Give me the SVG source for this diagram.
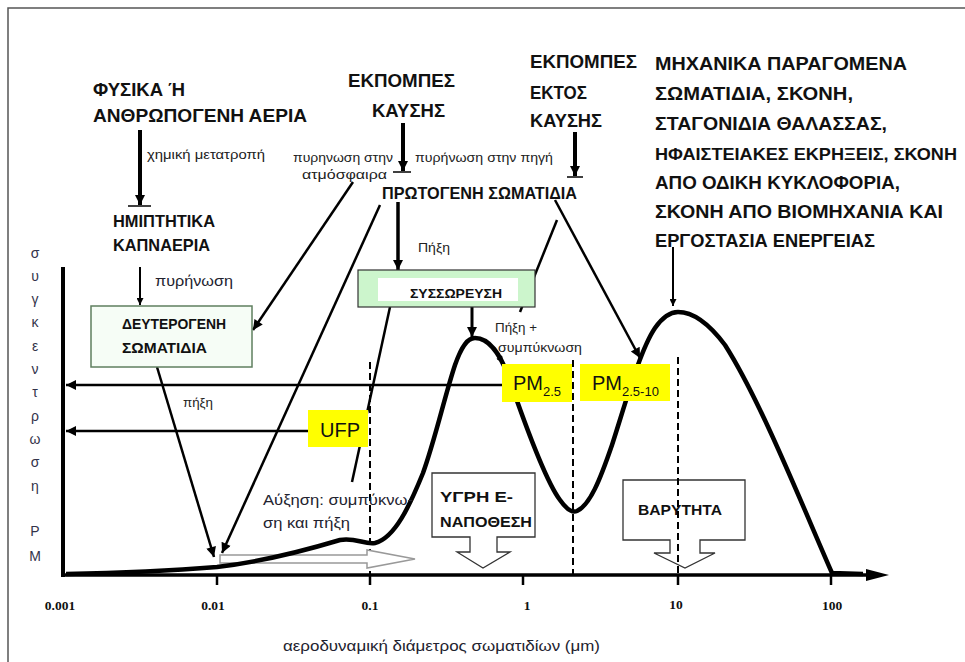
<svg xmlns="http://www.w3.org/2000/svg" width="965" height="662" viewBox="0 0 965 662">
<style>
.h{font-family:"Liberation Sans",Arial,sans-serif;font-weight:bold;font-size:19px;fill:#111}
.hm{font-family:"Liberation Sans",Arial,sans-serif;font-weight:bold;font-size:17px;fill:#111}
.bx{font-family:"Liberation Sans",Arial,sans-serif;font-weight:bold;font-size:15.5px;fill:#111}
.lb{font-family:"Liberation Sans",Arial,sans-serif;font-size:12.5px;fill:#222}
.lb2{font-family:"Liberation Sans",Arial,sans-serif;font-size:14.5px;fill:#22222e}
.ya{font-family:"Liberation Sans",Arial,sans-serif;font-size:14px;fill:#33334a;text-anchor:middle}
.tk{font-family:"Liberation Serif","Times New Roman",serif;font-weight:bold;font-size:13.5px;fill:#111;text-anchor:middle}
.pm{font-family:"Liberation Sans",Arial,sans-serif;font-size:20px;fill:#111}
.ln{stroke:#000;stroke-width:2.5;fill:none}
.dash{stroke:#000;stroke-width:2;stroke-dasharray:7,4;fill:none}
.ylw{fill:#ffff00}
</style>
<defs>
<marker id="ah" viewBox="0 0 10 10" refX="10" refY="5" markerUnits="userSpaceOnUse" markerWidth="13" markerHeight="10" orient="auto"><path d="M0,0 L10,5 L0,10 z" fill="#000"/></marker>
<marker id="ahs" viewBox="0 0 10 10" refX="10" refY="5" markerUnits="userSpaceOnUse" markerWidth="9" markerHeight="7" orient="auto"><path d="M0,0 L10,5 L0,10 z" fill="#000"/></marker>
</defs>
<rect width="965" height="662" fill="#fff"/>
<path d="M8,662 L8,8 L965,8" stroke="#555" stroke-width="1.5" fill="none"/>

<!-- axes -->
<g id="axes">
<line x1="63" y1="267" x2="63" y2="577" stroke="#000" stroke-width="4"/>
<line x1="61" y1="575" x2="870" y2="575" stroke="#000" stroke-width="3.5"/>
<path d="M866,569 L889,575 L866,581 z" fill="#000"/>
<g stroke="#000" stroke-width="2.5">
<line x1="217" y1="575" x2="217" y2="585"/>
<line x1="370" y1="575" x2="370" y2="585"/>
<line x1="523" y1="575" x2="523" y2="585"/>
<line x1="678" y1="575" x2="678" y2="585"/>
<line x1="831" y1="575" x2="831" y2="585"/>
</g>
<text class="tk" x="60" y="610">0.001</text>
<text class="tk" x="213" y="610">0.01</text>
<text class="tk" x="370" y="610">0.1</text>
<text class="tk" x="527" y="610">1</text>
<text class="tk" x="676" y="609">10</text>
<text class="tk" x="832" y="610">100</text>
<text class="lb2" x="283" y="651" textLength="317" lengthAdjust="spacingAndGlyphs">αεροδυναμική διάμετρος σωματιδίων (μm)</text>
<g class="ya">
<text x="35" y="258">σ</text><text x="35" y="281">υ</text><text x="35" y="304">γ</text><text x="35" y="327">κ</text><text x="35" y="351">ε</text><text x="35" y="374">ν</text><text x="35" y="397">τ</text><text x="35" y="421">ρ</text><text x="35" y="444">ω</text><text x="35" y="467">σ</text><text x="35" y="491">η</text><text x="35" y="536">P</text><text x="35" y="561">M</text>
</g>
</g>

<!-- dashed lines -->
<g id="dashes">
<line class="dash" x1="370" y1="362" x2="370" y2="575"/>
<line class="dash" x1="573" y1="360" x2="573" y2="575"/>
</g>

<!-- hollow growth arrow -->
<g id="growth-arrow">
<path d="M220,555 L367,555 L367,550 L415,559 L367,568 L367,563 L220,563 Z" fill="#fff" stroke="#999" stroke-width="1.5"/>
</g>

<!-- deposition boxes -->
<g id="wet-deposition">
<path d="M432,473 L535,473 L535,537 L497,537 L497,552 L510,552 L483,568 L457,552 L470,552 L470,537 L432,537 Z" fill="#fff" stroke="#333" stroke-width="1.3"/>
<text class="bx" x="440" y="502" textLength="73" lengthAdjust="spacingAndGlyphs">ΥΓΡΗ Ε-</text>
<text class="bx" x="440" y="527" textLength="92" lengthAdjust="spacingAndGlyphs">ΝΑΠΟΘΕΣΗ</text>
</g>
<g id="gravity">
<path d="M623,480 L745,480 L745,540 L700,540 L700,553 L715,553 L685,568 L654,553 L670,553 L670,540 L623,540 Z" fill="#fff" stroke="#333" stroke-width="1.3"/>
<text class="bx" x="638" y="515" textLength="84" lengthAdjust="spacingAndGlyphs">ΒΑΡΥΤΗΤΑ</text>
</g>
<line class="dash" x1="678" y1="357" x2="678" y2="575"/>

<!-- curve -->
<g id="curve">
<path d="M66,574 C120,573 180,570 217,567 C260,562 300,552 340,540 C355,537 365,545 375,543 C395,538 410,505 423,473 C435,440 445,395 455,365 C462,345 468,338 475,338 C490,338 500,355 508,375 C520,410 545,480 560,500 C567,510 572,513 577,511 C590,505 600,480 612,445 C625,405 640,350 655,328 C662,318 670,312 678,312 C695,312 710,325 725,345 C760,400 800,500 832,573 L863,574" fill="none" stroke="#000" stroke-width="4.5" stroke-linejoin="round"/>
</g>

<!-- connectors -->
<g id="connectors">
<line class="ln" x1="502" y1="385" x2="66" y2="385" stroke-width="2" marker-end="url(#ah)"/>
<line class="ln" x1="308" y1="431" x2="66" y2="431" stroke-width="3" marker-end="url(#ah)"/>
<line x1="140" y1="130" x2="140" y2="205" stroke="#000" stroke-width="4" marker-end="url(#ah)"/>
<line x1="128" y1="206" x2="151" y2="206" stroke="#000" stroke-width="1.5"/>
<line x1="140" y1="267" x2="140" y2="305" stroke="#000" stroke-width="2" marker-end="url(#ahs)"/>
<line x1="403" y1="123" x2="403" y2="171" stroke="#000" stroke-width="4" marker-end="url(#ah)"/>
<line x1="393" y1="172" x2="411" y2="172" stroke="#000" stroke-width="1.5"/>
<line x1="575" y1="132" x2="575" y2="176" stroke="#000" stroke-width="4" marker-end="url(#ah)"/>
<line x1="567" y1="177" x2="583" y2="177" stroke="#000" stroke-width="1.5"/>
<line x1="398" y1="202" x2="398" y2="270" stroke="#000" stroke-width="3.5" marker-end="url(#ah)"/>
<line x1="472" y1="307" x2="472" y2="337" stroke="#000" stroke-width="3" marker-end="url(#ah)"/>
<line class="ln" x1="353" y1="182" x2="253" y2="330" marker-end="url(#ah)"/>
<line class="ln" x1="380" y1="205" x2="222" y2="553" marker-end="url(#ah)"/>
<line class="ln" x1="157" y1="367" x2="214" y2="557" marker-end="url(#ah)"/>
<line class="ln" x1="390" y1="307" x2="352" y2="482"/>
<line class="ln" x1="557" y1="220" x2="520" y2="312"/>
<line class="ln" x1="555" y1="200" x2="640" y2="358" marker-end="url(#ah)"/>
<line x1="673" y1="247" x2="673" y2="306" stroke="#000" stroke-width="2" marker-end="url(#ahs)"/>
<line x1="496" y1="352" x2="503" y2="363" stroke="#000" stroke-width="1.5" marker-end="url(#ahs)"/>
</g>

<!-- yellow labels -->
<g id="ufp">
<rect class="ylw" x="308" y="410" width="60" height="37"/>
<text class="pm" x="320" y="437">UFP</text>
</g>
<g id="pm25">
<rect class="ylw" x="502" y="364" width="70" height="38"/>
<text class="pm" x="513" y="390">PM<tspan font-size="13" dy="6">2.5</tspan></text>
</g>
<g id="pm2510">
<rect class="ylw" x="580" y="364" width="90" height="37"/>
<text class="pm" x="592" y="390">PM<tspan font-size="13" dy="6">2.5-10</tspan></text>
</g>

<!-- green boxes -->
<g id="secondary">
<rect x="91" y="306" width="161" height="61" fill="#f6fdf6" stroke="#5f7f5f" stroke-width="1.5"/>
<text class="bx" x="122" y="329" textLength="104" lengthAdjust="spacingAndGlyphs">ΔΕΥΤΕΡΟΓΕΝΗ</text>
<text class="bx" x="122" y="353" textLength="85" lengthAdjust="spacingAndGlyphs">ΣΩΜΑΤΙΔΙΑ</text>
</g>
<g id="aggregation">
<rect x="358" y="270" width="177" height="37" fill="#ccf5cc" stroke="#333" stroke-width="1.2"/>
<rect x="378" y="278" width="140" height="23" fill="#fff"/>
<text class="bx" x="410" y="298" style="font-size:13.5px" textLength="92" lengthAdjust="spacingAndGlyphs">ΣΥΣΣΩΡΕΥΣΗ</text>
</g>

<!-- headers -->
<g id="gases">
<text class="h" x="93" y="96" textLength="92" lengthAdjust="spacingAndGlyphs">ΦΥΣΙΚΑ Ή</text>
<text class="h" x="93" y="122" textLength="214" lengthAdjust="spacingAndGlyphs">ΑΝΘΡΩΠΟΓΕΝΗ ΑΕΡΙΑ</text>
</g>
<g id="semivolatile">
<text class="hm" x="113" y="227" textLength="102" lengthAdjust="spacingAndGlyphs">ΗΜΙΠΤΗΤΙΚΑ</text>
<text class="hm" x="113" y="251" textLength="97" lengthAdjust="spacingAndGlyphs">ΚΑΠΝΑΕΡΙΑ</text>
</g>
<g id="combustion">
<text class="h" x="348" y="87" textLength="107" lengthAdjust="spacingAndGlyphs">ΕΚΠΟΜΠΕΣ</text>
<text class="h" x="372" y="117" textLength="73" lengthAdjust="spacingAndGlyphs">ΚΑΥΣΗΣ</text>
</g>
<g id="noncombustion">
<text class="h" x="530" y="68" textLength="107" lengthAdjust="spacingAndGlyphs">ΕΚΠΟΜΠΕΣ</text>
<text class="h" x="530" y="99" textLength="57" lengthAdjust="spacingAndGlyphs">ΕΚΤΟΣ</text>
<text class="h" x="530" y="127" textLength="72" lengthAdjust="spacingAndGlyphs">ΚΑΥΣΗΣ</text>
</g>
<g id="mechanical">
<text class="h" x="655" y="70" textLength="252" lengthAdjust="spacingAndGlyphs">ΜΗΧΑΝΙΚΑ ΠΑΡΑΓΟΜΕΝΑ</text>
<text class="h" x="655" y="100" textLength="198" lengthAdjust="spacingAndGlyphs">ΣΩΜΑΤΙΔΙΑ, ΣΚΟΝΗ,</text>
<text class="h" x="655" y="130" textLength="232" lengthAdjust="spacingAndGlyphs">ΣΤΑΓΟΝΙΔΙΑ ΘΑΛΑΣΣΑΣ,</text>
<text class="h" x="655" y="160" style="font-size:17px" textLength="302" lengthAdjust="spacingAndGlyphs">ΗΦΑΙΣΤΕΙΑΚΕΣ ΕΚΡΗΞΕΙΣ, ΣΚΟΝΗ</text>
<text class="h" x="655" y="189" textLength="245" lengthAdjust="spacingAndGlyphs">ΑΠΟ ΟΔΙΚΗ ΚΥΚΛΟΦΟΡΙΑ,</text>
<text class="h" x="655" y="218" textLength="288" lengthAdjust="spacingAndGlyphs">ΣΚΟΝΗ ΑΠΟ ΒΙΟΜΗΧΑΝΙΑ ΚΑΙ</text>
<text class="h" x="655" y="247" textLength="220" lengthAdjust="spacingAndGlyphs">ΕΡΓΟΣΤΑΣΙΑ ΕΝΕΡΓΕΙΑΣ</text>
</g>
<g id="primary">
<text class="hm" x="382" y="199" textLength="195" lengthAdjust="spacingAndGlyphs">ΠΡΩΤΟΓΕΝΗ ΣΩΜΑΤΙΔΙΑ</text>
</g>

<!-- small labels -->
<g id="labels">
<text class="lb" x="147" y="159" textLength="118" lengthAdjust="spacingAndGlyphs">χημική μετατροπή</text>
<text class="lb2" x="155" y="286" textLength="78" lengthAdjust="spacingAndGlyphs">πυρήνωση</text>
<text class="lb" x="293" y="162" textLength="100" lengthAdjust="spacingAndGlyphs">πυρηνωση στην</text>
<text class="lb" x="302" y="179" textLength="85" lengthAdjust="spacingAndGlyphs">ατμόσφαιρα</text>
<text class="lb" x="415" y="162" textLength="138" lengthAdjust="spacingAndGlyphs">πυρήνωση στην πηγή</text>
<text class="lb" x="418" y="252" textLength="32" lengthAdjust="spacingAndGlyphs">Πήξη</text>
<text class="lb" x="183" y="407" textLength="30" lengthAdjust="spacingAndGlyphs">πήξη</text>
<text class="lb" x="495" y="332" textLength="42" lengthAdjust="spacingAndGlyphs">Πήξη +</text>
<text class="lb" x="498" y="352" textLength="84" lengthAdjust="spacingAndGlyphs">συμπύκνωση</text>
<text class="lb2" x="263" y="505" textLength="150" lengthAdjust="spacingAndGlyphs">Αύξηση: συμπύκνω-</text>
<text class="lb2" x="263" y="528" textLength="87" lengthAdjust="spacingAndGlyphs">ση και πήξη</text>
</g>
</svg>
